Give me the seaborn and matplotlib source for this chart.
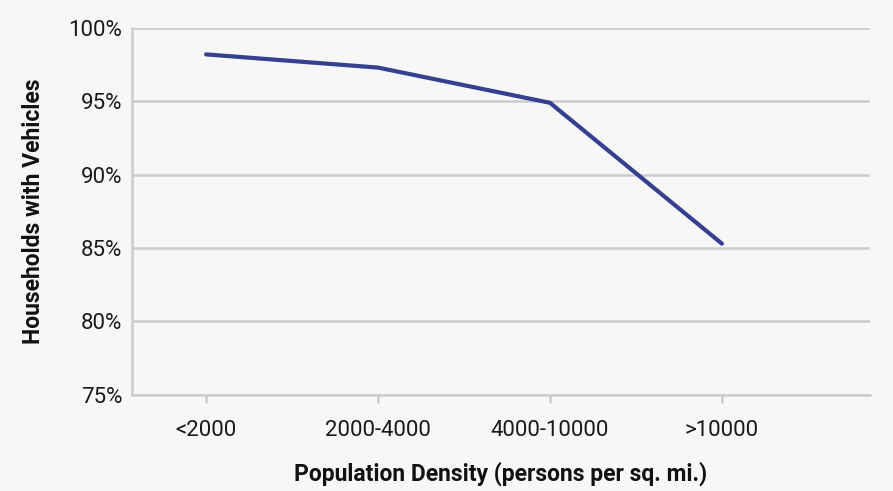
import matplotlib
matplotlib.use('Agg')
import matplotlib.pyplot as plt
import seaborn as sns
import pandas as pd
from matplotlib.ticker import FuncFormatter

# Data
categories = ['<2000', '2000-4000', '4000-10000', '>10000']
share_with_vehicles = [98.2, 97.3, 94.9, 85.3]
y_ticks = [75, 80, 85, 90, 95, 100]

BG = '#f7f7f7'
GRID = '#cccccc'
LINE = '#35408f'

sns.set_theme(style='white')
plt.rcParams['font.family'] = ['Roboto', 'DejaVu Sans']

df = pd.DataFrame({'x': range(len(categories)), 'y': share_with_vehicles})

fig = plt.figure(figsize=(8.93, 4.91), dpi=100, facecolor=BG)
ax = fig.add_axes([0.148, 0.196, 0.826, 0.747])
ax.set_facecolor(BG)

sns.lineplot(data=df, x='x', y='y', color=LINE, linewidth=3.0, ax=ax)

ax.set_ylim(75, 100)
ax.set_yticks(y_ticks)
ax.yaxis.set_major_formatter(FuncFormatter(lambda v, _: f'{v:.0f}%'))
ax.set_xlim(-0.43, 3.86)
ax.set_xticks(range(len(categories)))
ax.set_xticklabels(categories)

ax.grid(axis='y', color=GRID, linewidth=1.8)
ax.set_axisbelow(True)
for side in ['top', 'right']:
    ax.spines[side].set_visible(False)
for side in ['left', 'bottom']:
    ax.spines[side].set_color(GRID)
    ax.spines[side].set_linewidth(1.8)

ax.tick_params(axis='x', bottom=True, length=6, width=1.8, color=GRID,
               labelsize=16, labelcolor='#1a1a1a', pad=12)
ax.tick_params(axis='y', left=False, labelsize=16, labelcolor='#1a1a1a', pad=1)

ax.set_xlabel('Population Density (persons per sq. mi.)', fontsize=16.5,
              fontweight='bold', color='#111111', labelpad=15)
ax.set_ylabel('Households with Vehicles', fontsize=16.5,
              fontweight='bold', color='#111111', labelpad=17)

fig.savefig('out.png', dpi=100, facecolor=BG)
plt.close(fig)
